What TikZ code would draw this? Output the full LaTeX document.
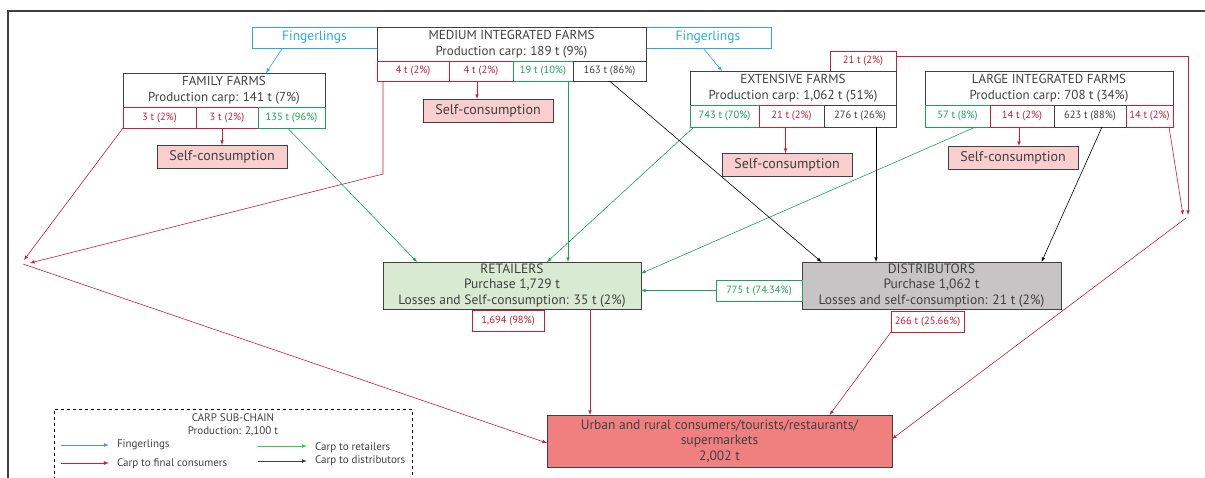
\documentclass[tikz,border=0pt]{standalone}
\usepackage{fontspec}
\setmainfont{PT Sans}
\usetikzlibrary{arrows}
\definecolor{carpred}{RGB}{200,32,52}
\definecolor{carpgreen}{RGB}{26,164,84}
\definecolor{fingblue}{RGB}{41,171,226}
\definecolor{legblue}{RGB}{91,143,214}
\definecolor{leggreen}{RGB}{60,196,80}
\definecolor{boxgray}{RGB}{64,64,64}
\definecolor{selfpink}{RGB}{248,206,206}
\definecolor{retgreen}{RGB}{217,234,211}
\definecolor{distgray}{RGB}{198,196,197}
\definecolor{urbred}{RGB}{240,128,128}

\begin{document}
\begin{tikzpicture}[x=1pt, y=-1pt, >=latex,
    every node/.style={inner sep=0pt, outer sep=0pt, anchor=north west, align=center, text=boxgray},
    farmbox/.style={draw=boxgray, line width=0.9pt, fill=white, font=\fontsize{13}{16}\selectfont, minimum height=34pt},
    redcell/.style={draw=carpred, text=carpred, line width=0.7pt, fill=white, font=\fontsize{10.5}{12}\selectfont},
    greencell/.style={draw=carpgreen, text=carpgreen, line width=0.7pt, fill=white, font=\fontsize{10.5}{12}\selectfont},
    blackcell/.style={draw=boxgray, line width=0.7pt, fill=white, font=\fontsize{10.5}{12}\selectfont},
    fingbox/.style={draw=fingblue, text=fingblue, line width=0.8pt, font=\fontsize{13.5}{14}\selectfont, minimum width=125pt, minimum height=21pt},
    selfbox/.style={draw=boxgray, fill=selfpink, line width=0.9pt, font=\fontsize{14}{15}\selectfont, minimum width=130pt, minimum height=23pt},
    buyerbox/.style={draw=boxgray, line width=0.9pt, font=\fontsize{13.5}{15.5}\selectfont, minimum height=47pt},
    redflow/.style={->, draw=carpred, line width=0.6pt},
    greenflow/.style={->, draw=carpgreen, line width=0.6pt},
    blackflow/.style={->, draw=black, line width=0.6pt},
    fingflow/.style={->, draw=fingblue, line width=0.6pt},
    legtext/.style={anchor=west, font=\fontsize{11}{13}\selectfont}]
    \useasboundingbox (0,0) rectangle (1205,477);
    % frame
    \draw[boxgray, line width=1.2pt] (8,479) -- (8,11) -- (1207,11);

    % fingerlings
    \node[fingbox] (fingL) at (252,27) {Fingerlings};
    \node[fingbox, minimum width=126pt] (fingR) at (645,27) {Fingerlings};

    % family farms
    \node[farmbox, minimum width=202pt] (fam) at (123,73) {FAMILY FARMS\\Production carp: 141 t (7\%)};
    \node[redcell, minimum width=73pt, minimum height=21pt] (famA) at (123,107) {3 t (2\%)};
    \node[redcell, minimum width=62pt, minimum height=21pt] (famB) at (196,107) {3 t (2\%)};
    \node[greencell, minimum width=67pt, minimum height=21pt] (famC) at (258,107) {135 t (96\%)};
    \node[selfbox] (selfFam) at (157,145) {Self-consumption};

    % medium integrated farms
    \node[farmbox, minimum width=269pt] (med) at (377,27) {MEDIUM INTEGRATED FARMS\\Production carp: 189 t (9\%)};
    \node[redcell, minimum width=72pt, minimum height=20pt] (medA) at (377,61) {4 t (2\%)};
    \node[redcell, minimum width=64pt, minimum height=20pt] (medB) at (449,61) {4 t (2\%)};
    \node[greencell, minimum width=60pt, minimum height=20pt] (medC) at (513,61) {19 t (10\%)};
    \node[blackcell, minimum width=73pt, minimum height=20pt] (medD) at (573,61) {163 t (86\%)};
    \node[selfbox] (selfMed) at (423,99) {Self-consumption};

    % extensive farms
    \node[redcell, minimum width=66pt, minimum height=20pt] (extTop) at (830,51) {21 t (2\%)};
    \node[farmbox, minimum width=206pt] (ext) at (690,71) {EXTENSIVE FARMS\\Production carp: 1,062 t (51\%)};
    \node[greencell, minimum width=69pt, minimum height=22pt] (extA) at (690,105) {743 t (70\%)};
    \node[redcell, minimum width=65pt, minimum height=22pt] (extB) at (759,105) {21 t (2\%)};
    \node[blackcell, minimum width=72pt, minimum height=22pt] (extC) at (824,105) {276 t (26\%)};
    \node[selfbox] (selfExt) at (722,153) {Self-consumption};

    % large integrated farms
    \node[farmbox, minimum width=248pt] (lrg) at (925,71) {LARGE INTEGRATED FARMS\\Production carp: 708 t (34\%)};
    \node[greencell, minimum width=65pt, minimum height=22pt] (lrgA) at (925,105) {57 t (8\%)};
    \node[redcell, minimum width=64pt, minimum height=22pt] (lrgB) at (990,105) {14 t (2\%)};
    \node[blackcell, minimum width=72pt, minimum height=22pt] (lrgC) at (1054,105) {623 t (88\%)};
    \node[redcell, minimum width=47pt, minimum height=22pt] (lrgD) at (1126,105) {14 t (2\%)};
    \node[selfbox] (selfLrg) at (948,146) {Self-consumption};

    % buyers
    \node[buyerbox, fill=retgreen, minimum width=258pt] (ret) at (383,262) {RETAILERS\\Purchase 1,729 t\\Losses and Self-consumption: 35 t (2\%)};
    \node[buyerbox, fill=distgray, minimum width=259pt] (dist) at (802,262) {DISTRIBUTORS\\Purchase 1,062 t\\Losses and self-consumption: 21 t (2\%)};
    \node[greencell, minimum width=86pt, minimum height=21pt] (g775) at (716,280) {775 t (74.34\%)};
    \node[redcell, minimum width=72pt, minimum height=21pt] (r1694) at (472,310) {1,694 (98\%)};
    \node[redcell, minimum width=73pt, minimum height=21pt] (r266) at (891,311) {266 t (25.66\%)};
    \node[buyerbox, fill=urbred, minimum width=345pt, minimum height=52pt] (urb) at (547,415) {Urban and rural consumers/tourists/restaurants/\\supermarkets\\2,002 t};

    \coordinate (leftPt) at (23,264);
    \coordinate (rightPt) at (1186,218);
    \coordinate (medBend) at (383,174);

    % fingerlings
    \draw[fingflow] ([xshift=-32pt]fingL.south) -- ([xshift=42pt]fam.north);
    \draw[fingflow] ([xshift=-5pt]fingR.south) -- ([xshift=-71pt]ext.north);
    % self-consumption
    \draw[redflow] ([xshift=-5pt]famB.south) -- ([xshift=-5pt]famB.south |- selfFam.north);
    \draw[redflow] ([xshift=-4pt]medB.south) -- ([xshift=-4pt]medB.south |- selfMed.north);
    \draw[redflow] ([xshift=-6pt]extB.south) -- ([xshift=-6pt]extB.south |- selfExt.north);
    \draw[redflow] ([xshift=-3pt]lrgB.south) -- ([xshift=-3pt]lrgB.south |- selfLrg.north);
    % carp to final consumers
    \draw[redflow] (famA.south west) -- ([xshift=1pt, yshift=4pt]leftPt);
    \draw[redflow] ([xshift=6pt]medA.south west) -- (medBend) -- ([xshift=7pt, yshift=1pt]leftPt);
    \draw[redflow] (leftPt) -- ([yshift=-2pt]urb.west);
    \draw[redflow] ([yshift=5pt]extTop.east) -| ([xshift=2pt, yshift=3pt]rightPt);
    \draw[redflow] ([xshift=-4pt]lrgD.south east) -- ([xshift=-3pt, yshift=3pt]rightPt);
    \draw[redflow] (rightPt) -- ([yshift=2pt]urb.east);
    \draw[redflow] ([xshift=78pt]ret.south) -- ([xshift=78pt]ret.south |- urb.north);
    \draw[redflow] (r266.south west) -- ([xshift=110pt]urb.north);
    % carp to retailers
    \draw[greenflow] ([xshift=-4pt]famC.south) -- ([xshift=-95pt]ret.north);
    \draw[greenflow] ([xshift=25pt]medC.south) -- ([xshift=25pt]medC.south |- ret.north);
    \draw[greenflow] ([xshift=4pt]extA.south west) -- ([xshift=35pt]ret.north);
    \draw[greenflow] ([xshift=18pt]lrgA.south) -- ([yshift=12pt]ret.east);
    \draw[greenflow] (g775.west) -- (g775.west -| ret.east);
    % carp to distributors
    \draw[blackflow] (medD.south) -- ([xshift=-110pt]dist.north);
    \draw[blackflow] ([xshift=16pt]extC.south) -- ([xshift=16pt]extC.south |- dist.north);
    \draw[blackflow] ([xshift=12pt]lrgC.south) -- ([xshift=110pt]dist.north);

    % legend
    \draw[black, line width=0.6pt, dashed] (54,480) |- (412,409) -- (412,480);
    \node[anchor=center, font=\fontsize{11}{13}\selectfont] (legTitle) at (233,425) {CARP SUB-CHAIN\\Production: 2,100 t};
    \node[legtext] (legFing) at (117,445) {Fingerlings};
    \node[legtext] (legCons) at (117,464) {Carp to final consumers};
    \node[legtext] (legRet) at (315,448) {Carp to retailers};
    \node[legtext] (legDist) at (315,461) {Carp to distributors};
    \draw[->, legblue, line width=0.8pt] ([xshift=-56pt]legFing.west) -- ([xshift=-8pt]legFing.west);
    \draw[->, carpred, line width=0.8pt] ([xshift=-56pt, yshift=1pt]legCons.west) -- ([xshift=-8pt, yshift=1pt]legCons.west);
    \draw[->, leggreen, line width=0.8pt] ([xshift=-57pt, yshift=2pt]legRet.west) -- ([xshift=-8pt, yshift=2pt]legRet.west);
    \draw[->, boxgray, line width=0.8pt] ([xshift=-57pt]legDist.west) -- ([xshift=-8pt]legDist.west);
\end{tikzpicture}
\end{document}
